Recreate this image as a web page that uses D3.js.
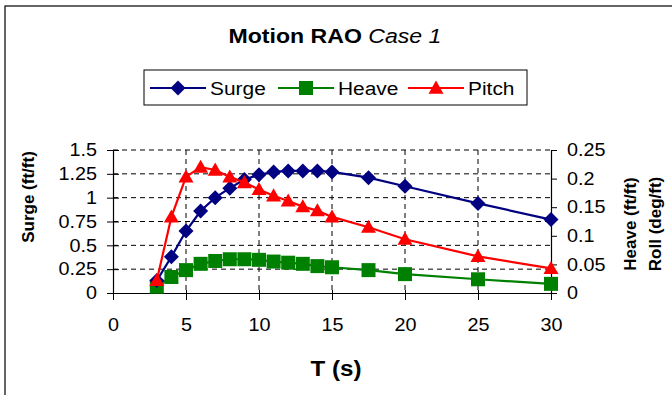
<!DOCTYPE html>
<html>
<head>
<meta charset="utf-8">
<script src="https://cdn.jsdelivr.net/npm/d3@7"></script>
<style>
  body { margin: 0; background: #fff; }
  svg { font-family: "Liberation Sans", Arial, sans-serif; }
</style>
</head>
<body>
<div id="chart"></div>
<script>
// wave periods (s)
const periods = [3, 4, 5, 6, 7, 8, 9, 10, 11, 12, 13, 14, 15, 17.5, 20, 25, 30]
// left axis, ft/ft
const surge = [0.13, 0.38, 0.65, 0.86, 1.0, 1.1, 1.19, 1.24, 1.27, 1.28, 1.28, 1.28, 1.27, 1.21, 1.12, 0.94, 0.77]
// right axis
const heave = [0.011, 0.028, 0.04, 0.051, 0.056, 0.059, 0.059, 0.058, 0.055, 0.053, 0.051, 0.047, 0.045, 0.04, 0.033, 0.024, 0.016]
const pitch = [0.022, 0.133, 0.203, 0.22, 0.215, 0.203, 0.193, 0.181, 0.17, 0.161, 0.151, 0.144, 0.133, 0.115, 0.094, 0.064, 0.043]

const xTicks = [0, 5, 10, 15, 20, 25, 30]
const leftTicks = [0, 0.25, 0.5, 0.75, 1, 1.25, 1.5]
const rightTicks = [0, 0.05, 0.1, 0.15, 0.2, 0.25]

const W = 672, H = 395
const plot = { left: 113, right: 551, top: 150, bottom: 293 }
// the original is a little wider than tall, so text gets stretched sideways
const STRETCH = 1.1

const svg = d3.select('#chart').append('svg')
  .attr('width', W)
  .attr('height', H)

// stretch a text element around its own anchor point
function stretch(sel) {
  sel.each(function () {
    const t = d3.select(this)
    const ax = +(t.attr('x') || 0)
    const prev = t.attr('transform') || ''
    t.attr('transform', prev + ' translate(' + ax + ',0) scale(' + STRETCH + ',1) translate(' + (-ax) + ',0)')
  })
}

// marker shapes, size = half width
const diamond = { draw(c, r) { c.moveTo(0, -r); c.lineTo(r, 0); c.lineTo(0, r); c.lineTo(-r, 0); c.closePath() } }
const square = { draw(c, r) { c.rect(-r, -r, 2 * r, 2 * r) } }
const triangle = { draw(c, r) { c.moveTo(0, -r); c.lineTo(r, r * 0.75); c.lineTo(-r, r * 0.75); c.closePath() } }

// outer frame (runs off the right / bottom edge)
svg.append('rect')
  .attr('x', 5).attr('y', 6)
  .attr('width', W + 10).attr('height', H + 10)
  .attr('fill', '#fff')
  .attr('stroke', '#000')
  .attr('stroke-width', 1.2)

const x = d3.scaleLinear().domain([0, 30]).range([plot.left, plot.right])
const yL = d3.scaleLinear().domain([0, 1.5]).range([plot.bottom, plot.top])
const yR = d3.scaleLinear().domain([0, 0.25]).range([plot.bottom, plot.top])

// grid
svg.append('g').selectAll('line')
  .data(leftTicks.filter(d => d > 0))
  .enter().append('line')
  .attr('x1', plot.left).attr('x2', plot.right)
  .attr('y1', d => yL(d)).attr('y2', d => yL(d))
  .attr('stroke', '#000').attr('stroke-dasharray', '5,4')

svg.append('g').selectAll('line')
  .data(xTicks.filter(d => d > 0 && d < 30))
  .enter().append('line')
  .attr('x1', d => x(d)).attr('x2', d => x(d))
  .attr('y1', plot.top).attr('y2', plot.bottom)
  .attr('stroke', '#000').attr('stroke-dasharray', '5,4')

// axes
const xAxis = svg.append('g')
  .attr('transform', 'translate(0,' + plot.bottom + ')')
  .call(d3.axisBottom(x).tickValues(xTicks).tickSize(7).tickPadding(18).tickSizeOuter(0))
const leftAxis = svg.append('g')
  .attr('transform', 'translate(' + plot.left + ',0)')
  .call(d3.axisLeft(yL).tickValues(leftTicks).tickSize(6).tickPadding(10).tickSizeOuter(0).tickFormat(d => d))
const rightAxis = svg.append('g')
  .attr('transform', 'translate(' + plot.right + ',0)')
  .call(d3.axisRight(yR).tickValues(rightTicks).tickSize(6).tickPadding(10).tickSizeOuter(0).tickFormat(d => d))

// left ticks cross the axis line
leftAxis.selectAll('.tick line').attr('x1', 6)
xAxis.selectAll('.tick line').attr('y1', -3)

;[xAxis, leftAxis, rightAxis].forEach(a => {
  a.selectAll('text').attr('font-size', 18).attr('font-family', '"Liberation Sans", Arial, sans-serif').attr('fill', '#000')
  stretch(a.selectAll('text'))
  a.selectAll('line').attr('stroke', '#000')
  a.select('.domain').attr('stroke', '#000').attr('stroke-width', 1.2)
})

// series
const series = [
  { name: 'Surge', values: surge, y: yL, color: '#000080', shape: diamond, size: 7.5 },
  { name: 'Heave', values: heave, y: yR, color: '#008000', shape: square, size: 7 },
  { name: 'Pitch', values: pitch, y: yR, color: '#ff0000', shape: triangle, size: 7.5 }
]

// draw heave first, then surge, pitch on top
const order = [1, 0, 2]
order.forEach(i => {
  const s = series[i]
  const line = d3.line().x((d, j) => x(periods[j])).y(d => s.y(d))
  svg.append('path')
    .datum(s.values)
    .attr('d', line)
    .attr('fill', 'none')
    .attr('stroke', s.color)
    .attr('stroke-width', 2.2)
  svg.append('g').selectAll('path')
    .data(s.values)
    .enter().append('path')
    .attr('transform', (d, j) => 'translate(' + x(periods[j]) + ',' + s.y(d) + ')')
    .attr('d', d3.symbol().type(s.shape).size(s.size))
    .attr('fill', s.color)
})

// title
const title = svg.append('text')
  .attr('x', 335).attr('y', 43)
  .attr('text-anchor', 'middle')
  .attr('font-size', 21)
title.append('tspan').attr('font-weight', 'bold').text('Motion RAO ')
title.append('tspan').attr('font-style', 'italic').text('Case 1')
stretch(title)

// legend
svg.append('rect')
  .attr('x', 144).attr('y', 70)
  .attr('width', 383).attr('height', 35)
  .attr('fill', '#fff')
  .attr('stroke', '#000')
  .attr('stroke-width', 1)

const legendX = [150, 278, 408]
series.forEach((s, i) => {
  const g = svg.append('g').attr('transform', 'translate(' + legendX[i] + ',88)')
  g.append('line').attr('x1', 0).attr('x2', 56).attr('stroke', s.color).attr('stroke-width', 2.2)
  g.append('path')
    .attr('transform', 'translate(28,0)')
    .attr('d', d3.symbol().type(s.shape).size(s.size))
    .attr('fill', s.color)
  const t = g.append('text')
    .attr('x', 60).attr('y', 7)
    .attr('font-size', 19)
    .text(s.name)
  stretch(t)
})

// axis titles
svg.append('text')
  .attr('transform', 'translate(34,197) rotate(-90)')
  .attr('text-anchor', 'middle')
  .attr('font-size', 17).attr('font-weight', 'bold')
  .text('Surge (ft/ft)')

svg.append('text')
  .attr('transform', 'translate(636,224) rotate(-90)')
  .attr('text-anchor', 'middle')
  .attr('font-size', 17).attr('font-weight', 'bold')
  .text('Heave (ft/ft)')

svg.append('text')
  .attr('transform', 'translate(661,224) rotate(-90)')
  .attr('text-anchor', 'middle')
  .attr('font-size', 17).attr('font-weight', 'bold')
  .text('Roll (deg/ft)')

const tt = svg.append('text')
  .attr('x', 336).attr('y', 376)
  .attr('text-anchor', 'middle')
  .attr('font-size', 22).attr('font-weight', 'bold')
  .text('T (s)')
stretch(tt)
</script>
</body>
</html>
